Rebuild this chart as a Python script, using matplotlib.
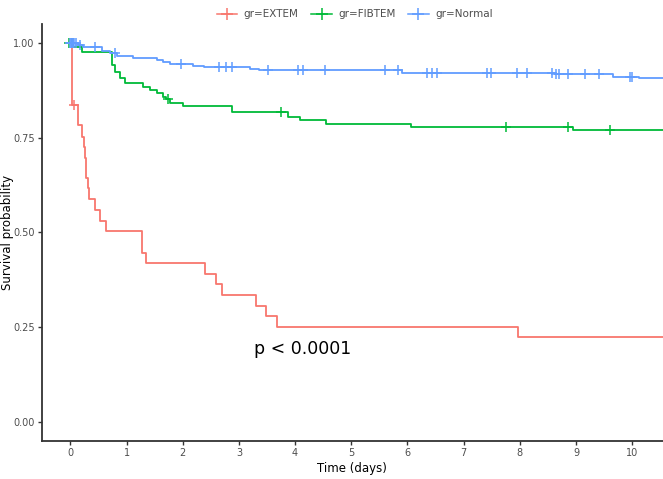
import numpy as np
import matplotlib
matplotlib.use("Agg")
import matplotlib.pyplot as plt
from matplotlib.lines import Line2D

######################################################################
# Kaplan-Meier steps (time in days, survival)
extem_time = [0.0, 0.025, 0.14, 0.20, 0.25, 0.26, 0.27, 0.28, 0.31, 0.33,
              0.44, 0.53, 0.635, 1.27, 1.35, 2.40, 2.59, 2.70, 3.30, 3.49,
              3.67, 7.97]
extem_surv = [1.0, 0.836, 0.783, 0.752, 0.724, 0.697, 0.670, 0.644, 0.616,
              0.588, 0.559, 0.530, 0.504, 0.447, 0.419, 0.391, 0.364, 0.335,
              0.306, 0.280, 0.251, 0.2255]
extem_cens = [0.06]

fibtem_time = [0.0, 0.05, 0.2, 0.74, 0.80, 0.88, 0.97, 1.30, 1.42, 1.54,
               1.64, 1.70, 1.77, 2.01, 2.87, 3.87, 4.09, 4.55, 6.06, 8.94]
fibtem_surv = [1.0, 0.989, 0.976, 0.941, 0.924, 0.908, 0.895, 0.884, 0.875,
               0.868, 0.858, 0.851, 0.842, 0.833, 0.817, 0.805, 0.796, 0.786,
               0.778, 0.769]
fibtem_cens = [-0.02, 0.03, 1.74, 3.75, 7.75, 8.85, 9.60]

normal_time = [0.0, 0.14, 0.23, 0.56, 0.71, 0.83, 1.12, 1.54, 1.65, 1.77,
               2.19, 2.37, 3.20, 3.35, 5.90, 8.62, 9.66, 10.12]
normal_surv = [1.0, 0.994, 0.989, 0.979, 0.972, 0.966, 0.960, 0.955, 0.950,
               0.944, 0.939, 0.935, 0.930, 0.927, 0.921, 0.917, 0.910, 0.906]
normal_cens = [0.0, 0.01, 0.02, 0.03, 0.04, 0.05, 0.07, 0.10, 0.17, 0.44,
               0.80, 1.97, 2.65, 2.77, 2.88, 3.52, 4.05, 4.14, 4.54, 5.60,
               5.83, 6.34, 6.43, 6.52, 7.42, 7.48, 7.95, 8.12, 8.58, 8.65,
               8.70, 8.86, 9.17, 9.41, 9.97, 9.99]

groups = ["gr=EXTEM", "gr=FIBTEM", "gr=Normal"]
colors = ["#F8766D", "#00BA38", "#619CFF"]

x_ticks = list(range(0, 11))
y_ticks = [0.0, 0.25, 0.5, 0.75, 1.0]
y_tick_labels = ["0.00", "0.25", "0.50", "0.75", "1.00"]

XMIN, XMAX = -0.51, 10.55
GREY = "#4D4D4D"


def surv_at(times, surv, t):
    # value of the step curve at time t
    idx = np.searchsorted(times, t, side="right") - 1
    return np.asarray(surv)[np.clip(idx, 0, len(surv) - 1)]


fig = plt.figure(figsize=(6.63, 4.79), dpi=100)
ax = fig.add_axes([0.063, 0.079, 0.937, 0.8715])

series = [(extem_time, extem_surv, extem_cens),
          (fibtem_time, fibtem_surv, fibtem_cens),
          (normal_time, normal_surv, normal_cens)]

for (t, s, c), col in zip(series, colors):
    tt = list(t) + [XMAX]
    ss = list(s) + [s[-1]]
    ax.step(tt, ss, where="post", color=col, lw=1.3, zorder=3)
    ax.plot(c, surv_at(t, s, c), ls="none", marker="+", ms=7, mew=1.1,
            color=col, zorder=4)

ax.text(3.27, 0.193, "p < 0.0001", fontsize=12.5, ha="left", va="center",
        color="black")

ax.set_xlim(XMIN, XMAX)
ax.set_ylim(-0.05, 1.05)
ax.set_xticks(x_ticks)
ax.set_yticks(y_ticks)
ax.set_yticklabels(y_tick_labels)
ax.tick_params(axis="both", colors="#333333", labelcolor=GREY, labelsize=7,
               length=3, width=1, direction="out", pad=2)
for side in ["top", "right"]:
    ax.spines[side].set_visible(False)
for side in ["left", "bottom"]:
    ax.spines[side].set_color("#333333")
    ax.spines[side].set_linewidth(1.3)

ax.set_xlabel("Time (days)", fontsize=8.5, labelpad=3)
# y title placed in figure pixels so it stays inside the left edge
fig.text(7.5 / 663, 1 - 232 / 479, "Survival probability", fontsize=8.5,
         rotation=90, ha="center", va="center")

handles = [Line2D([0], [0], color=col, lw=1.1, marker="+", ms=8, mew=1.1)
           for col in colors]
fig.legend(handles, groups, loc="upper center", bbox_to_anchor=(0.535, 1.0),
           ncol=3, frameon=False, fontsize=7.5, handlelength=2.0,
           columnspacing=1.2, handletextpad=0.6, labelcolor=GREY)

fig.savefig("out.png", dpi=100)
